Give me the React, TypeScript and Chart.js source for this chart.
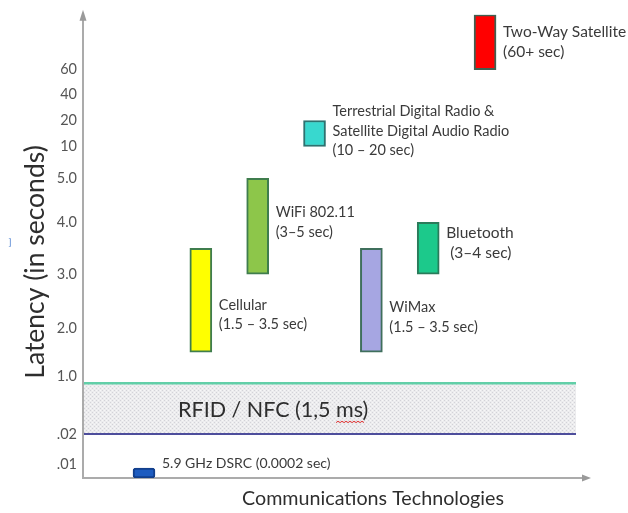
import { useEffect, useRef } from 'react';
import { Chart, LinearScale, registerables } from 'chart.js';

// ---- data -----------------------------------------------------------------
const TECHNOLOGIES = [
  '5.9 GHz DSRC',
  'Cellular',
  'WiFi 802.11',
  'Terrestrial Digital Radio & Satellite Digital Audio Radio',
  'WiMax',
  'Bluetooth',
  'Two-Way Satellite',
];
// latency range of each technology, in seconds
const LATENCY_LOW = [0, 1.5, 3, 10, 1.5, 3, 60];
const LATENCY_HIGH = [0.0002, 3.5, 5, 20, 3.5, 4, 100];
// where each text block sits, in latency units
const LABEL_AT = [0.0103, 2.25, 4.0, 16, 2.2, 3.6, 80];
const LABEL_LINES = [
  ['5.9 GHz DSRC (0.0002 sec)'],
  ['Cellular', '(1.5 \u2013 3.5 sec)'],
  ['WiFi 802.11', '(3\u20135 sec)'],
  ['Terrestrial Digital Radio &', 'Satellite Digital Audio Radio', '(10 \u2013 20 sec)'],
  ['WiMax', '(1.5 \u2013 3.5 sec)'],
  ['Bluetooth', ' (3\u20134 sec)'],
  ['Two-Way Satellite', '(60+ sec)'],
];
const LABEL_SIZES = [14, 14.5, 14.5, 14.5, 14.5, 15.5, 15.5];
const RFID_RANGE = [0.02, 0.88];
const RFID_LABEL = 'RFID / NFC (1,5 ms)';

// non-uniform latency axis: tick values and their labels
const TICK_VALUES = [0.01, 0.02, 1, 2, 3, 4, 5, 10, 20, 40, 60];
const TICK_LABELS = ['.01', '.02', '1.0', '2.0', '3.0', '4.0', '5.0', '10', '20', '40', '60'];
// axis stops (value -> share of the axis height) for the piecewise scale
const AXIS_STOPS = [0, 0.0002, 0.01, 0.02, 1, 2, 3, 4, 5, 10, 20, 40, 60, 100];
const STOP_SHARES = [0, 0.0216, 0.0302, 0.0948, 0.2198, 0.3233, 0.4397, 0.5517, 0.6466, 0.7155, 0.7716, 0.8276, 0.8815, 1];

const FILLS = ['#1d5cc0', '#ffff00', '#8dc64a', '#38d8cf', '#a6a6e2', '#1cc98b', '#ff0000'];
const BORDERS = ['#123f8c', '#3f7d4d', '#3f7d4d', '#2e7270', '#3f6f5c', '#2a7b5a', '#3f5f50'];

const FONT = 'Lato, "Open Sans", sans-serif';

function valueToShare(v: number): number {
  if (v <= AXIS_STOPS[0]) return 0;
  for (let i = 1; i < AXIS_STOPS.length; i++) {
    if (v <= AXIS_STOPS[i]) {
      const t = (v - AXIS_STOPS[i - 1]) / (AXIS_STOPS[i] - AXIS_STOPS[i - 1]);
      return STOP_SHARES[i - 1] + t * (STOP_SHARES[i] - STOP_SHARES[i - 1]);
    }
  }
  return 1;
}

function shareToValue(s: number): number {
  if (s <= 0) return AXIS_STOPS[0];
  for (let i = 1; i < STOP_SHARES.length; i++) {
    if (s <= STOP_SHARES[i]) {
      const t = (s - STOP_SHARES[i - 1]) / (STOP_SHARES[i] - STOP_SHARES[i - 1]);
      return AXIS_STOPS[i - 1] + t * (AXIS_STOPS[i] - AXIS_STOPS[i - 1]);
    }
  }
  return AXIS_STOPS[AXIS_STOPS.length - 1];
}

class StopScale extends LinearScale {
  static id = 'stops';
  static defaults = LinearScale.defaults;
  getPixelForValue(value: any) {
    if (value === null || value === undefined || Number.isNaN(+value)) return NaN;
    return this.getPixelForDecimal(valueToShare(+value));
  }
  getValueForPixel(pixel: number) {
    return shareToValue(this.getDecimalForPixel(pixel));
  }
}

Chart.register(...registerables, StopScale);

function dotPattern(ctx: CanvasRenderingContext2D) {
  const c = document.createElement('canvas');
  c.width = 4;
  c.height = 4;
  const p = c.getContext('2d')!;
  p.fillStyle = '#ececee';
  p.fillRect(0, 0, 4, 4);
  p.fillStyle = '#d3d3d8';
  p.fillRect(0, 0, 1, 1);
  p.fillRect(2, 2, 1, 1);
  p.fillStyle = '#f7f7f7';
  p.fillRect(2, 0, 1, 1);
  p.fillRect(0, 2, 1, 1);
  return ctx.createPattern(c, 'repeat')!;
}

// RFID / NFC band behind the bars
const bandPlugin = {
  id: 'rfidBand',
  beforeDatasetsDraw(chart: any) {
    const { ctx, chartArea } = chart;
    const y = chart.scales.y;
    const top = y.getPixelForValue(RFID_RANGE[1]);
    const bottom = y.getPixelForValue(RFID_RANGE[0]);
    ctx.save();
    ctx.fillStyle = dotPattern(ctx);
    ctx.fillRect(chartArea.left + 1, top, chartArea.right - chartArea.left - 1, bottom - top);
    ctx.lineWidth = 2.5;
    ctx.strokeStyle = '#62cfa8';
    ctx.beginPath();
    ctx.moveTo(chartArea.left + 1, top);
    ctx.lineTo(chartArea.right, top);
    ctx.stroke();
    ctx.lineWidth = 2;
    ctx.strokeStyle = '#4e4e9c';
    ctx.beginPath();
    ctx.moveTo(chartArea.left + 1, bottom);
    ctx.lineTo(chartArea.right, bottom);
    ctx.stroke();

    ctx.font = `21.5px ${FONT}`;
    ctx.fillStyle = '#2e2e2e';
    ctx.textAlign = 'left';
    ctx.textBaseline = 'middle';
    const tx = chartArea.left + 95;
    const ty = (top + bottom) / 2 + 1;
    ctx.fillText(RFID_LABEL, tx, ty);
    // spell-check squiggle under "ms"
    const pre = ctx.measureText('RFID / NFC (1,5 ').width;
    const ms = ctx.measureText('ms').width;
    ctx.strokeStyle = '#e03030';
    ctx.lineWidth = 1;
    ctx.beginPath();
    let sx = tx + pre;
    const sy = ty + 13;
    ctx.moveTo(sx, sy);
    let up = true;
    while (sx < tx + pre + ms) {
      sx += 2;
      ctx.lineTo(sx, up ? sy - 1.5 : sy);
      up = !up;
    }
    ctx.stroke();
    ctx.restore();
  },
};

// technology labels next to each bar
const labelPlugin = {
  id: 'techLabels',
  afterDatasetsDraw(chart: any) {
    const { ctx } = chart;
    const y = chart.scales.y;
    const meta = chart.getDatasetMeta(0);
    ctx.save();
    ctx.fillStyle = '#3a3a3a';
    ctx.textAlign = 'left';
    ctx.textBaseline = 'middle';
    meta.data.forEach((bar: any, i: number) => {
      const { x, width } = bar.getProps(['x', 'width'], true);
      const lines = LABEL_LINES[i];
      const lh = i === 0 ? 14 : 19.5;
      ctx.font = `${LABEL_SIZES[i]}px ${FONT}`;
      const cy = y.getPixelForValue(LABEL_AT[i]);
      const x0 = x + width / 2 + 7;
      lines.forEach((ln, k) => {
        ctx.fillText(ln, x0, cy + (k - (lines.length - 1) / 2) * lh);
      });
    });
    ctx.restore();
  },
};

// arrowheads, axis titles
const axisPlugin = {
  id: 'axisDecor',
  afterDraw(chart: any) {
    const { ctx, chartArea } = chart;
    const { left, right, top, bottom } = chartArea;
    ctx.save();
    ctx.strokeStyle = '#ababab';
    ctx.fillStyle = '#9a9a9a';
    ctx.lineWidth = 2;
    ctx.beginPath();
    ctx.moveTo(left, top);
    ctx.lineTo(left, top - 2);
    ctx.moveTo(right, bottom);
    ctx.lineTo(right + 8, bottom);
    ctx.stroke();
    ctx.beginPath();
    ctx.moveTo(left - 3.5, top + 6);
    ctx.lineTo(left, top - 5);
    ctx.lineTo(left + 3.5, top + 6);
    ctx.closePath();
    ctx.fill();
    ctx.beginPath();
    ctx.moveTo(right + 6, bottom - 3.5);
    ctx.lineTo(right + 15, bottom);
    ctx.lineTo(right + 6, bottom + 3.5);
    ctx.closePath();
    ctx.fill();

    ctx.fillStyle = '#2e2e2e';
    ctx.textAlign = 'center';
    ctx.textBaseline = 'middle';
    ctx.font = `19.7px ${FONT}`;
    ctx.fillText('Communications Technologies', 373, 499);

    ctx.save();
    ctx.translate(35, 262);
    ctx.rotate(-Math.PI / 2);
    ctx.font = `26.5px ${FONT}`;
    ctx.fillText('Latency (in seconds)', 0, 0);
    ctx.restore();

    ctx.fillStyle = '#4a7fd0';
    ctx.font = `10px ${FONT}`;
    ctx.fillText(']', 10, 242);
    ctx.restore();
  },
};

export default function App() {
  const canvasRef = useRef<HTMLCanvasElement | null>(null);

  useEffect(() => {
    const canvas = canvasRef.current;
    if (!canvas) return;
    const chart = new Chart(canvas, {
      type: 'bar',
      data: {
        labels: TECHNOLOGIES,
        datasets: [
          {
            label: 'Latency',
            data: LATENCY_LOW.map((lo, i) => ({ x: i + 1, y: [lo, LATENCY_HIGH[i]] })) as any,
            backgroundColor: FILLS,
            borderColor: BORDERS,
            borderWidth: 2,
            borderSkipped: false,
            borderRadius: LATENCY_LOW.map((_, i) => (i === 0 ? 3 : 0)),
            barThickness: 22,
          },
        ],
      },
      options: {
        animation: false,
        responsive: true,
        maintainAspectRatio: false,
        layout: { padding: { left: 0, top: 14, right: 52, bottom: 0 } },
        plugins: {
          legend: { display: false },
          tooltip: { enabled: false },
        },
        scales: {
          x: {
            type: 'linear',
            offset: false,
            min: -0.073,
            max: 8.6,
            grid: { display: false, drawTicks: false },
            border: { display: true, color: '#ababab', width: 2 },
            ticks: { display: false },
            afterFit: (s: any) => {
              s.height = 35;
            },
          },
          y: {
            type: 'stops' as any,
            min: 0,
            max: 100,
            grid: { display: false, drawTicks: false },
            border: { display: true, color: '#ababab', width: 2 },
            afterBuildTicks: (s: any) => {
              s.ticks = TICK_VALUES.map((v) => ({ value: v }));
            },
            ticks: {
              autoSkip: false,
              padding: 6,
              color: '#555555',
              font: { family: FONT, size: 14.5 },
              callback: (_v: any, idx: number) => TICK_LABELS[idx],
            },
            afterFit: (s: any) => {
              s.width = 83;
            },
          },
        },
      },
      plugins: [bandPlugin, labelPlugin, axisPlugin],
    });
    return () => chart.destroy();
  }, []);

  return (
    <div style={{ position: 'fixed', left: 0, top: 0, width: 628, height: 513, background: '#ffffff' }}>
      <canvas ref={canvasRef} />
    </div>
  );
}
